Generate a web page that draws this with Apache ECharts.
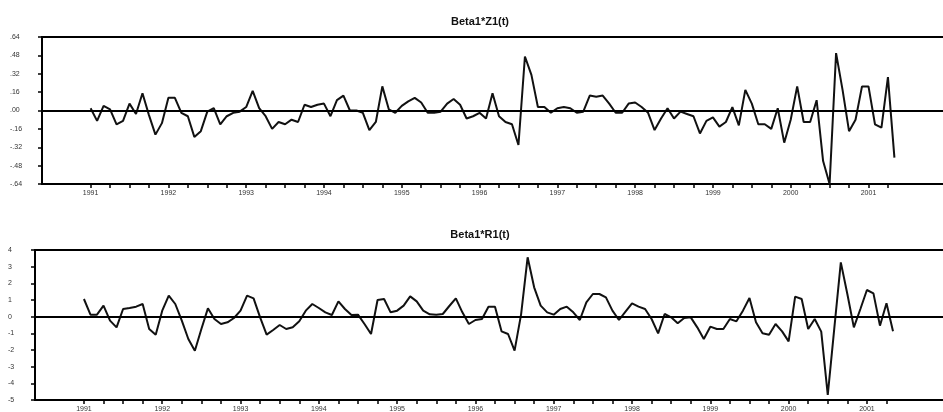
<!DOCTYPE html>
<html>
<head>
<meta charset="utf-8">
<script src="https://cdn.jsdelivr.net/npm/echarts@6/dist/echarts.min.js"></script>
<style>
  html, body { margin: 0; padding: 0; background: #fff; }
  #chart { width: 943px; height: 412px; }
</style>
</head>
<body>
<div id="chart"></div>
<script>
// monthly values, 1991-01 .. 2001-05
var z1Values = [
  0.02, -0.09, 0.04, 0.01, -0.12, -0.09, 0.06, -0.03, 0.15, -0.04, -0.21, -0.11,
  0.11, 0.11, -0.02, -0.05, -0.23, -0.18, -0.01, 0.02, -0.12, -0.05, -0.02, -0.01,
  0.03, 0.17, 0.02, -0.05, -0.16, -0.10, -0.12, -0.08, -0.10, 0.05, 0.03, 0.05,
  0.06, -0.05, 0.09, 0.13, 0.00, 0.00, -0.02, -0.17, -0.10, 0.21, 0.01, -0.02,
  0.04, 0.08, 0.11, 0.07, -0.02, -0.02, -0.01, 0.06, 0.10, 0.05, -0.07, -0.05,
  -0.02, -0.07, 0.15, -0.05, -0.10, -0.12, -0.30, 0.47, 0.31, 0.03, 0.03, -0.02,
  0.02, 0.03, 0.02, -0.02, -0.01, 0.13, 0.12, 0.13, 0.06, -0.02, -0.02, 0.06,
  0.07, 0.03, -0.02, -0.17, -0.07, 0.02, -0.07, -0.01, -0.03, -0.05, -0.20, -0.09,
  -0.06, -0.14, -0.10, 0.03, -0.13, 0.18, 0.06, -0.12, -0.12, -0.16, 0.02, -0.28,
  -0.08, 0.21, -0.10, -0.10, 0.09, -0.44, -0.64, 0.50, 0.18, -0.18, -0.08, 0.21,
  0.21, -0.12, -0.15, 0.29, -0.41
];
var r1Values = [
  1.06, 0.12, 0.12, 0.66, -0.24, -0.64, 0.46, 0.52, 0.60, 0.76, -0.74, -1.08,
  0.36, 1.26, 0.76, -0.24, -1.34, -2.04, -0.74, 0.50, -0.14, -0.44, -0.34, -0.08,
  0.36, 1.26, 1.10, -0.04, -1.08, -0.80, -0.50, -0.74, -0.64, -0.28, 0.36, 0.76,
  0.52, 0.26, 0.10, 0.92, 0.46, 0.10, 0.12, -0.44, -1.04, 1.00, 1.06, 0.26,
  0.36, 0.66, 1.22, 0.92, 0.36, 0.14, 0.12, 0.16, 0.64, 1.10, 0.26, -0.44,
  -0.20, -0.14, 0.60, 0.60, -0.88, -1.04, -2.04, 0.14, 3.56, 1.76, 0.66, 0.26,
  0.12, 0.46, 0.60, 0.26, -0.20, 0.86, 1.36, 1.36, 1.16, 0.36, -0.20, 0.30,
  0.80, 0.60, 0.46, -0.14, -1.00, 0.16, -0.04, -0.40, -0.08, -0.04, -0.64, -1.34,
  -0.60, -0.74, -0.74, -0.14, -0.28, 0.36, 1.12, -0.34, -1.00, -1.08, -0.44, -0.88,
  -1.48, 1.20, 1.06, -0.74, -0.14, -0.90, -4.70, -0.70, 3.26, 1.36, -0.64, 0.46,
  1.60, 1.40, -0.54, 0.80, -0.88
];
var titles = ['Beta1*Z1(t)', 'Beta1*R1(t)'];
var z1Ticks = [-0.64, -0.48, -0.32, -0.16, 0, 0.16, 0.32, 0.48, 0.64];
var r1Ticks = [-5, -4, -3, -2, -1, 0, 1, 2, 3, 4];

// axis runs 1990-06 .. 2002-02, data begins 1991-01
var PAD = 7;
var months = [];
for (var y = 1990; y <= 2002; y++) {
  for (var m = 1; m <= 12; m++) {
    if (y == 1990 && m < 6) continue;
    if (y == 2002 && m > 2) break;
    months.push(y + '-' + (m < 10 ? '0' + m : m));
  }
}
function padded(vals) {
  var out = [];
  for (var i = 0; i < months.length; i++) {
    var k = i - PAD;
    out.push(k >= 0 && k < vals.length ? vals[k] : null);
  }
  return out;
}
var nData = z1Values.length;

function tickShow(index) {
  var k = index - PAD;
  return k >= 0 && k < nData && k % 3 === 0;
}
function labelShow(index) {
  var k = index - PAD;
  return k >= 0 && k < nData && k % 12 === 0;
}
function fmtDec(v) {
  var s = Math.abs(v).toFixed(2).replace(/^0/, '');
  return (v < -1e-9 ? '-' : '') + s;
}

function xAxisFor(gi) {
  return {
    type: 'category',
    gridIndex: gi,
    data: months,
    boundaryGap: true,
    axisLine: { show: true, onZero: false, lineStyle: { color: '#000', width: 2 } },
    axisTick: { show: true, alignWithLabel: true, interval: tickShow, length: 4, lineStyle: { color: '#000', width: 1.5 } },
    axisLabel: {
      interval: labelShow, margin: 6, fontSize: 7, color: '#333',
      fontFamily: 'Liberation Sans',
      formatter: function (v) { return v.slice(0, 4); }
    },
    splitLine: { show: false }
  };
}

var myChart = echarts.init(document.getElementById('chart'));

// month widths: ~6.48px on top panel, ~6.53px on the lower one
var topW = Math.round(months.length * 6.483);
var botW = Math.round(months.length * 6.525);

var option = {
  backgroundColor: '#fff',
  animation: false,
  graphic: [
    { type: 'text', x: 480, y: 22, style: { text: titles[0], align: 'center', verticalAlign: 'middle', font: 'bold 11px "Liberation Sans"', fill: '#111' } },
    { type: 'text', x: 480, y: 235, style: { text: titles[1], align: 'center', verticalAlign: 'middle', font: 'bold 11px "Liberation Sans"', fill: '#111' } }
  ],
  grid: [
    { left: 42, top: 37, width: topW, height: 147, outerBoundsMode: 'none', show: true, borderColor: '#000', borderWidth: 2 },
    { left: 35, top: 250, width: botW, height: 150, outerBoundsMode: 'none', show: true, borderColor: '#000', borderWidth: 2 }
  ],
  xAxis: [xAxisFor(0), xAxisFor(1)],
  yAxis: [
    {
      type: 'value', gridIndex: 0,
      min: z1Ticks[0], max: z1Ticks[z1Ticks.length - 1], interval: 0.16,
      axisLine: { show: true, lineStyle: { color: '#000', width: 2 } },
      axisTick: { show: true, length: 4, lineStyle: { color: '#000', width: 1.5 } },
      axisLabel: { margin: 32, align: 'left', fontSize: 7, color: '#333', fontFamily: 'Liberation Sans', formatter: fmtDec },
      splitLine: { show: false }
    },
    {
      type: 'value', gridIndex: 1,
      min: r1Ticks[0], max: r1Ticks[r1Ticks.length - 1], interval: 1,
      axisLine: { show: true, lineStyle: { color: '#000', width: 2 } },
      axisTick: { show: true, length: 4, lineStyle: { color: '#000', width: 1.5 } },
      axisLabel: { margin: 27, align: 'left', fontSize: 7, color: '#333', fontFamily: 'Liberation Sans' },
      splitLine: { show: false }
    }
  ],
  series: [
    {
      name: titles[0], type: 'line', xAxisIndex: 0, yAxisIndex: 0,
      data: padded(z1Values), symbol: 'none', connectNulls: false,
      lineStyle: { color: '#111', width: 2 },
      markLine: {
        silent: true, symbol: ['none', 'none'], label: { show: false },
        lineStyle: { color: '#000', width: 2, type: 'solid' },
        data: [{ yAxis: 0 }]
      }
    },
    {
      name: titles[1], type: 'line', xAxisIndex: 1, yAxisIndex: 1,
      data: padded(r1Values), symbol: 'none', connectNulls: false,
      lineStyle: { color: '#111', width: 2 },
      markLine: {
        silent: true, symbol: ['none', 'none'], label: { show: false },
        lineStyle: { color: '#000', width: 2, type: 'solid' },
        data: [{ yAxis: 0 }]
      }
    }
  ]
};

myChart.setOption(option);
</script>
</body>
</html>
